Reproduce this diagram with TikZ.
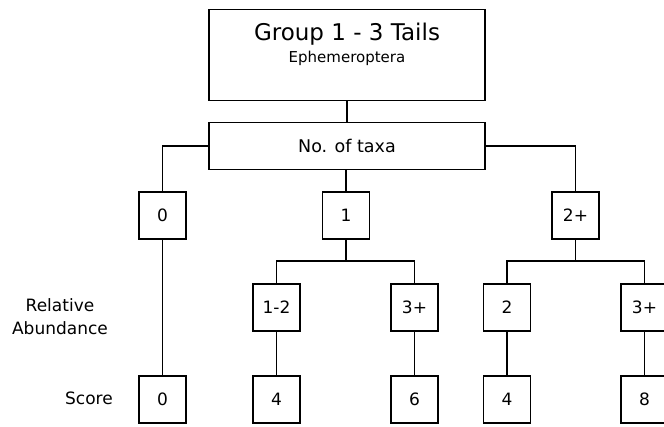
\documentclass[tikz,border=0pt]{standalone}
\usepackage{fontspec}
\setmainfont{DejaVu Sans}
\begin{document}
\begin{tikzpicture}[x=1pt,y=-1pt,
  bx/.style={draw,line width=1.4pt,minimum width=47pt,minimum height=47pt,inner sep=0pt,font=\fontsize{17}{19}\selectfont},
  wide/.style={draw,line width=1.4pt,minimum width=276pt,inner sep=0pt,font=\fontsize{17.5}{19}\selectfont},
  ln/.style={line width=1.4pt},
  lbl/.style={font=\fontsize{17}{23}\selectfont,align=center,inner sep=0pt}]
\useasboundingbox (0,0) rectangle (664,426);
\begin{scope}
\clip (0,0) rectangle (664,426);
\node[wide,minimum height=91pt] (top) at (347,55) {};
\node[font=\fontsize{23}{25}\selectfont,inner sep=0pt] (t1) at (347,34) {Group 1 - 3 Tails};
\node[font=\fontsize{15}{17}\selectfont,inner sep=0pt] (t2) at (347,58) {Ephemeroptera};
\node[wide,minimum height=47pt] (taxa) at (347,146) {No. of taxa};
\node[bx] (n0) at (162.5,215.5) {0};
\node[bx] (n1) at (346,215.5) {1};
\node[bx] (n2) at (575.5,215.5) {2+};
\node[bx] (a12) at (276.5,307.5) {1-2};
\node[bx] (a3) at (414.5,307.5) {3+};
\node[bx] (b2) at (507,307.5) {2};
\node[bx] (b3) at (644.5,307.5) {3+};
\node[bx] (s0) at (162.5,399.5) {0};
\node[bx] (s4) at (276.5,399.5) {4};
\node[bx] (s6) at (414.5,399.5) {6};
\node[bx] (s4b) at (507,399.5) {4};
\node[bx] (s8) at (644.5,399.5) {8};
\end{scope}
\node[lbl] (ra) at (60,317) {Relative\\Abundance};
\node[lbl] (sc) at (89,398) {Score};
\draw[ln] (top.south) -- (taxa.north);
\draw[ln] (taxa.west) -| (n0.north);
\draw[ln] (taxa.east) -| (n2.north);
\draw[ln] (taxa.south -| n1) -- (n1.north);
\coordinate (j1) at (346,261);
\coordinate (j2) at (575.5,261);
\draw[ln] (n1.south) -- (j1);
\draw[ln] (a12.north) |- (j1) -| (a3.north);
\draw[ln] (n2.south) -- (j2);
\draw[ln] (b2.north) |- (j2) -| (b3.north);
\draw[ln] (n0.south) -- (s0.north);
\draw[ln] (a12.south) -- (s4.north);
\draw[ln] (a3.south) -- (s6.north);
\draw[ln] (b2.south) -- (s4b.north);
\draw[ln] (b3.south) -- (s8.north);
\end{tikzpicture}
\end{document}
